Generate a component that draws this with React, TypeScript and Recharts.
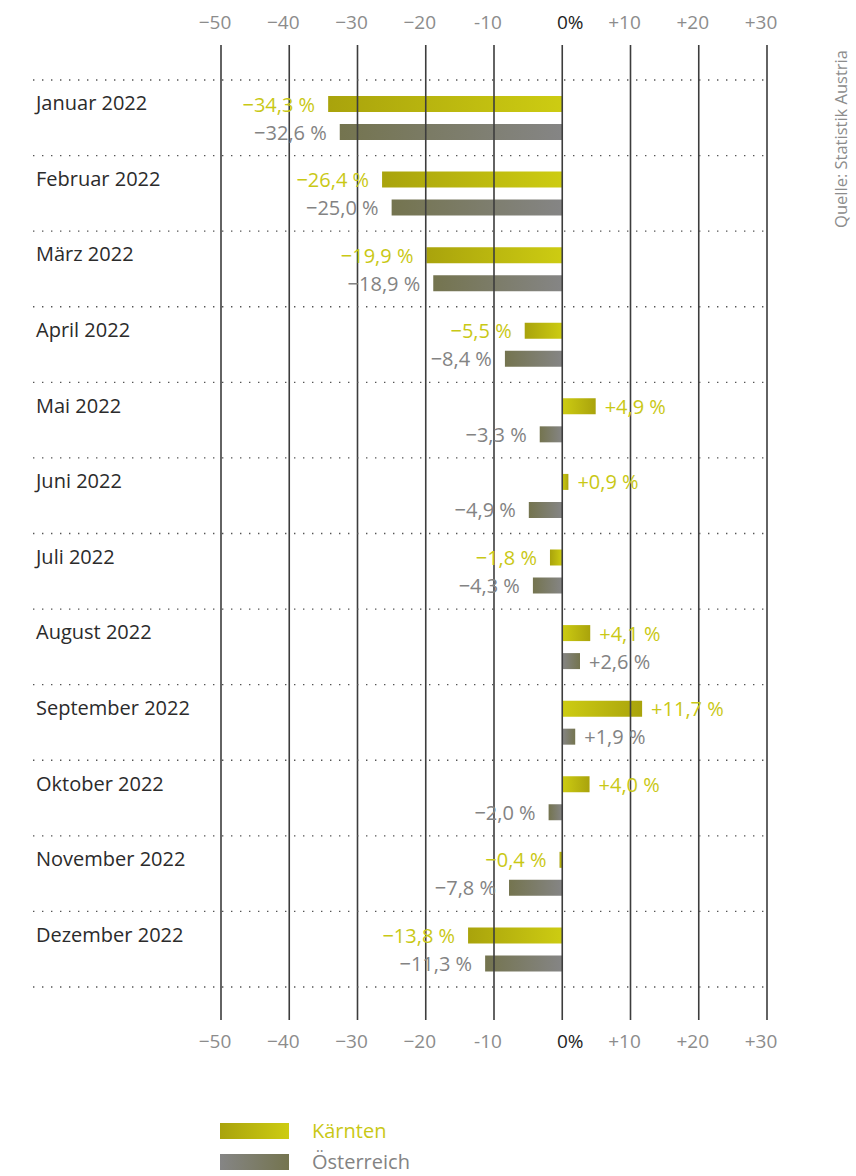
import React from "react";
import { BarChart, Bar, XAxis, YAxis, Cell, LabelList } from "recharts";

document.body.style.margin = "0";

const months = [
  "Januar 2022",
  "Februar 2022",
  "März 2022",
  "April 2022",
  "Mai 2022",
  "Juni 2022",
  "Juli 2022",
  "August 2022",
  "September 2022",
  "Oktober 2022",
  "November 2022",
  "Dezember 2022",
];
const kaernten = [-34.3, -26.4, -19.9, -5.5, 4.9, 0.9, -1.8, 4.1, 11.7, 4.0, -0.4, -13.8];
const oesterreich = [-32.6, -25.0, -18.9, -8.4, -3.3, -4.9, -4.3, 2.6, 1.9, -2.0, -7.8, -11.3];
const xTicks = [-50, -40, -30, -20, -10, 0, 10, 20, 30];
const xTickLabels = ["−50", "−40", "−30", "−20", "-10", "0%", "+10", "+20", "+30"];

const FONT = "'Open Sans', sans-serif";
const YELLOW = "#c9c815";
const GREY = "#838383";
const LINE = "#3d3d3d";

const CHART_W = 856;
const CHART_H = 1060;
const TOP_AXIS_H = 80;
const BOTTOM_AXIS_H = 73;
const PLOT_BOTTOM = CHART_H - BOTTOM_AXIS_H;
const BAND = (PLOT_BOTTOM - TOP_AXIS_H) / months.length;

const data = months.map((m, i) => ({ month: m, k: kaernten[i], o: oesterreich[i] }));

const fmt = (v: number) =>
  (v < 0 ? "−" : "+") + Math.abs(v).toFixed(1).replace(".", ",") + " %";

// top axis tick: draws the full grid line (above the bars) plus the label at top and bottom
const XTick = (props: any) => {
  const { x, payload } = props;
  const idx = xTicks.indexOf(payload.value);
  const label = xTickLabels[idx] ?? String(payload.value);
  const isZero = payload.value === 0;
  const tx = isZero ? x + 8 : x - 6;
  const style = {
    fontFamily: FONT,
    fontSize: 19,
    fill: isZero ? "#1e1e1e" : "#8c8c8c",
  };
  return (
    <g>
      <line x1={x} x2={x} y1={45} y2={PLOT_BOTTOM + 33} stroke={LINE} strokeWidth={1.6} />
      <text x={tx} y={22} textAnchor="middle" dominantBaseline="central" {...style}>
        {label}
      </text>
      <text x={tx} y={1041} textAnchor="middle" dominantBaseline="central" {...style}>
        {label}
      </text>
    </g>
  );
};

const MonthTick = (props: any) => {
  const { y, payload, index } = props;
  const top = y - BAND / 2;
  return (
    <g>
      <line x1={33} x2={767} y1={top} y2={top} stroke="#555" strokeWidth={1.4} strokeDasharray="1.4 7.6" />
      {index === months.length - 1 && (
        <line x1={33} x2={767} y1={y + BAND / 2} y2={y + BAND / 2} stroke="#555" strokeWidth={1.4} strokeDasharray="1.4 7.6" />
      )}
      <text x={36} y={y - 15} dominantBaseline="central" fontFamily={FONT} fontSize={20} fill="#2b2b2b">
        {payload.value}
      </text>
    </g>
  );
};

const makeValueLabel = (color: string) => (props: any) => {
  const { x, y, width, height, value } = props;
  const left = Math.min(x, x + width);
  const right = Math.max(x, x + width);
  const neg = value < 0;
  return (
    <text
      x={neg ? left - 13 : right + 9}
      y={y + height / 2}
      textAnchor={neg ? "end" : "start"}
      dominantBaseline="central"
      fontFamily={FONT}
      fontSize={20}
      fontWeight={500}
      fill={color}
    >
      {fmt(value)}
    </text>
  );
};

export default function App() {
  return (
    <div style={{ position: "relative", width: 856, height: 1176, fontFamily: FONT, overflow: "hidden" }}>
      <svg width={0} height={0} style={{ position: "absolute" }}>
        <defs>
          <linearGradient id="kNeg" x1="0" y1="0" x2="1" y2="0">
            <stop offset="0%" stopColor="#a9a30c" />
            <stop offset="100%" stopColor="#cdcc12" />
          </linearGradient>
          <linearGradient id="kPos" x1="0" y1="0" x2="1" y2="0">
            <stop offset="0%" stopColor="#cdcc12" />
            <stop offset="100%" stopColor="#a9a30c" />
          </linearGradient>
          <linearGradient id="oNeg" x1="0" y1="0" x2="1" y2="0">
            <stop offset="0%" stopColor="#74744f" />
            <stop offset="100%" stopColor="#858585" />
          </linearGradient>
          <linearGradient id="oPos" x1="0" y1="0" x2="1" y2="0">
            <stop offset="0%" stopColor="#858585" />
            <stop offset="100%" stopColor="#74744f" />
          </linearGradient>
        </defs>
      </svg>

      <BarChart
        width={CHART_W}
        height={CHART_H}
        data={data}
        layout="vertical"
        margin={{ top: 0, right: 89, bottom: BOTTOM_AXIS_H, left: 0 }}
        barGap={12}
      >
        <XAxis
          orientation="top"
          type="number"
          domain={[-50, 30]}
          ticks={xTicks}
          height={TOP_AXIS_H}
          tickLine={false}
          axisLine={false}
          tick={<XTick />}
          interval={0}
        />
        <YAxis
          type="category"
          dataKey="month"
          width={221}
          axisLine={false}
          tickLine={false}
          tick={<MonthTick />}
          interval={0}
        />
        <Bar dataKey="k" barSize={16} isAnimationActive={false}>
          {data.map((d, i) => (
            <Cell key={`k-${i}`} fill={d.k < 0 ? "url(#kNeg)" : "url(#kPos)"} />
          ))}
          <LabelList dataKey="k" content={makeValueLabel(YELLOW)} />
        </Bar>
        <Bar dataKey="o" barSize={16} isAnimationActive={false}>
          {data.map((d, i) => (
            <Cell key={`o-${i}`} fill={d.o < 0 ? "url(#oNeg)" : "url(#oPos)"} />
          ))}
          <LabelList dataKey="o" content={makeValueLabel(GREY)} />
        </Bar>
      </BarChart>

      <div
        style={{
          position: "absolute",
          left: 840,
          top: 139,
          transform: "translate(-50%, -50%) rotate(-90deg)",
          whiteSpace: "nowrap",
          fontSize: 16.5,
          color: "#8c8c8c",
        }}
      >
        Quelle: Statistik Austria
      </div>

      <div style={{ position: "absolute", left: 220, top: 1115 }}>
        {[
          { name: "Kärnten", color: YELLOW, grad: "linear-gradient(to right, #a9a30c, #cdcc12)" },
          { name: "Österreich", color: GREY, grad: "linear-gradient(to right, #858585, #74744f)" },
        ].map((s) => (
          <div key={s.name} style={{ display: "flex", alignItems: "center", height: 31 }}>
            <div style={{ width: 69, height: 16, background: s.grad }} />
            <span style={{ marginLeft: 23, fontSize: 20, fontWeight: 500, color: s.color, lineHeight: "24px" }}>
              {s.name}
            </span>
          </div>
        ))}
      </div>
    </div>
  );
}
